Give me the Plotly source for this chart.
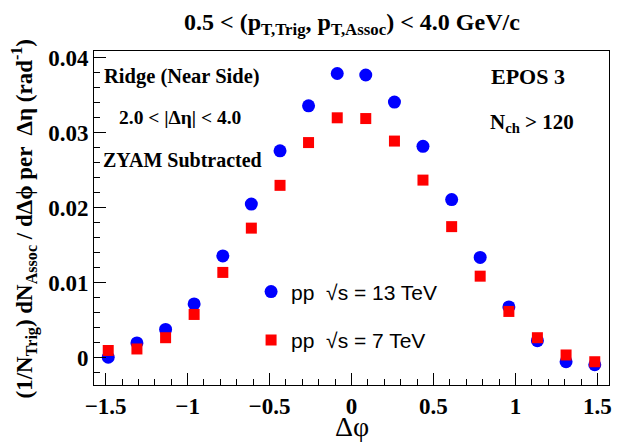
import numpy as np
import plotly.graph_objects as go

# Bin centres of delta-phi (18 bins between -pi/2 and pi/2)
dphi = [-1.484, -1.309, -1.134, -0.960, -0.785, -0.611, -0.436, -0.262, -0.087,
        0.087, 0.262, 0.436, 0.611, 0.785, 0.960, 1.134, 1.309, 1.484]

pp13 = [0.0001, 0.0020, 0.0038, 0.0072, 0.0136, 0.0205, 0.0276, 0.0336, 0.0379,
        0.0377, 0.0341, 0.0282, 0.0211, 0.0134, 0.0068, 0.0023, -0.0005, -0.0009]

pp7 = [0.0010, 0.0012, 0.0027, 0.0058, 0.0114, 0.0173, 0.0230, 0.0287, 0.0320,
       0.0319, 0.0289, 0.0237, 0.0175, 0.0109, 0.0062, 0.0027, 0.0004, -0.0005]

xticks = [-1.5, -1, -0.5, 0, 0.5, 1, 1.5]
xticklabels = ["\u22121.5", "\u22121", "\u22120.5", "0", "0.5", "1", "1.5"]
yticks = [0, 0.01, 0.02, 0.03, 0.04]
yticklabels = ["0", "0.01", "0.02", "0.03", "0.04"]

serif = "Liberation Serif"
sans = "Liberation Sans"

fig = go.Figure()
fig.add_trace(go.Scatter(
    x=dphi, y=pp13, mode="markers",
    marker=dict(symbol="circle", size=13, color="#0000ff"),
    name="pp  \u221as = 13 TeV", legendgroup="a"))
fig.add_trace(go.Scatter(
    x=dphi, y=pp7, mode="markers",
    marker=dict(symbol="square", size=11, color="#ff0000"),
    name="pp  \u221as = 7 TeV", legendgroup="b"))

# the page body adds an 8px offset, so the figure is 8px smaller on each side
fig.update_layout(
    width=621, height=437,
    margin=dict(l=86, r=20, t=43, b=60),
    paper_bgcolor="white", plot_bgcolor="white",
    showlegend=True,
    legend=dict(x=0.305, y=0.34, xanchor="left", yanchor="top",
                bgcolor="rgba(0,0,0,0)", borderwidth=0,
                font=dict(family=sans, size=21, color="black"),
                tracegroupgap=18, traceorder="grouped"),
    xaxis=dict(range=[-np.pi / 2, np.pi / 2], tickmode="array",
               tickvals=xticks, ticktext=["<b>%s</b>" % t for t in xticklabels],
               ticks="inside", ticklen=12, tickwidth=1, tickcolor="black",
               minor=dict(ticks="inside", ticklen=6, dtick=0.1, tick0=0, tickcolor="black"),
               showline=True, linecolor="black", linewidth=1, mirror=True,
               showgrid=False, zeroline=False, automargin=False,
               tickfont=dict(family=serif, size=23, color="black")),
    yaxis=dict(range=[-0.0036, 0.0409], tickmode="array",
               tickvals=yticks, ticktext=["<b>%s</b>" % t for t in yticklabels],
               ticks="inside", ticklen=12, tickwidth=1, tickcolor="black",
               minor=dict(ticks="inside", ticklen=6, dtick=0.002, tick0=0, tickcolor="black"),
               showline=True, linecolor="black", linewidth=1, mirror=True,
               showgrid=False, zeroline=False, automargin=False,
               tickfont=dict(family=serif, size=23, color="black")),
)

def ann(text, x, y, size, xanchor="left", family=serif, angle=0):
    fig.add_annotation(text=text, x=x, y=y, xref="paper", yref="paper",
                       xanchor=xanchor, yanchor="middle", showarrow=False,
                       textangle=angle,
                       font=dict(family=family, size=size, color="black"))

# axis titles
ann("\u0394\u03c6", 0.5, -0.124, 28, xanchor="center")
ann("<b>(1/N<sub>Trig</sub>) dN<sub>Assoc</sub> / d\u0394\u03d5 per  \u0394\u03b7 (rad<sup>-1</sup>)</b>",
    -0.135, 0.5, 23, xanchor="center", angle=-90)

# title and labels
ann("<b>0.5 &lt; (p<sub>T,Trig</sub>, p<sub>T,Assoc</sub>) &lt; 4.0 GeV/c</b>", 0.5, 1.082, 24, xanchor="center")
ann("<b>Ridge (Near Side)</b>", 0.016, 0.925, 20.5)
ann("<b>2.0 &lt; |\u0394\u03b7| &lt; 4.0</b>", 0.045, 0.80, 19.5)
ann("<b>ZYAM Subtracted</b>", 0.014, 0.675, 20)
ann("<b>EPOS 3</b>", 0.767, 0.925, 22)
ann("<b>N<sub>ch</sub> &gt; 120</b>", 0.765, 0.785, 21)

fig.write_html("out.html")
